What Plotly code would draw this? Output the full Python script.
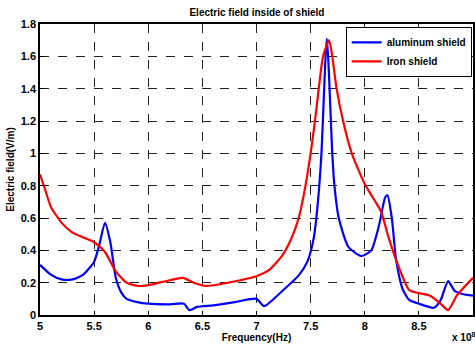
import plotly.graph_objects as go

freq_al = [5.0, 5.1, 5.2, 5.3, 5.4, 5.5, 5.55, 5.6, 5.65, 5.7, 5.75, 5.8, 5.9, 6.0, 6.2, 6.33,
           6.38, 6.45, 6.6, 6.8, 7.0, 7.07, 7.24, 7.39, 7.47, 7.53, 7.57, 7.6, 7.65, 7.7,
           7.72, 7.76, 7.85, 7.97, 8.06, 8.13, 8.19, 8.21, 8.25, 8.29, 8.35, 8.41, 8.5, 8.64,
           8.7, 8.77, 8.83, 8.9, 9.0]
e_al = [0.31, 0.25, 0.22, 0.22, 0.25, 0.33, 0.44, 0.57, 0.45, 0.23, 0.14, 0.10, 0.08, 0.07, 0.066, 0.07,
        0.03, 0.05, 0.06, 0.08, 0.10, 0.055, 0.15, 0.245, 0.33, 0.48, 0.72, 1.0, 1.71, 1.0,
        0.80, 0.60, 0.42, 0.365, 0.40, 0.55, 0.73, 0.74, 0.6, 0.34, 0.16, 0.093, 0.07, 0.045,
        0.09, 0.21, 0.15, 0.13, 0.12]

freq_fe = [5.0, 5.05, 5.1, 5.2, 5.3, 5.4, 5.5, 5.6, 5.7, 5.8, 5.9, 6.0, 6.1, 6.2, 6.32, 6.42,
           6.53, 6.7, 6.85, 7.0, 7.12, 7.24, 7.32, 7.39, 7.45, 7.5, 7.54, 7.575, 7.615, 7.67, 7.7,
           7.74, 7.8, 7.88, 8.0, 8.09, 8.15, 8.22, 8.29, 8.41, 8.5, 8.6, 8.7, 8.77, 8.85, 9.0]
e_fe = [0.87, 0.77, 0.67, 0.57, 0.51, 0.48, 0.45, 0.39, 0.27, 0.20, 0.18, 0.185, 0.20, 0.215, 0.23, 0.20,
        0.18, 0.195, 0.215, 0.24, 0.28, 0.37, 0.47, 0.60, 0.79, 1.0, 1.2, 1.4, 1.6, 1.70, 1.6,
        1.4, 1.2, 1.0, 0.81, 0.71, 0.64, 0.48, 0.34, 0.155, 0.135, 0.12, 0.07, 0.03, 0.12, 0.23]

x_ticks = [5, 5.5, 6, 6.5, 7, 7.5, 8, 8.5, 9]
x_ticktext = ["5", "5.5", "6", "6.5", "7", "7.5", "8", "8.5", "9"]
y_ticks = [0, 0.2, 0.4, 0.6, 0.8, 1, 1.2, 1.4, 1.6, 1.8]
y_ticktext = ["0", "0.2", "0.4", "0.6", "0.8", "1", "1.2", "1.4", "1.6", "1.8"]

font_family = "Liberation Sans, Arial, sans-serif"

fig = go.Figure()
fig.add_trace(go.Scatter(x=freq_al, y=e_al, mode="lines", name="aluminum shield",
                         line=dict(color="#0000ff", width=2.2, shape="spline", smoothing=0.6)))
fig.add_trace(go.Scatter(x=freq_fe, y=e_fe, mode="lines", name="Iron shield",
                         line=dict(color="#ff0000", width=2.2, shape="spline", smoothing=0.6)))

axis_common = dict(showline=True, linecolor="black", linewidth=1.5, mirror=True,
                   ticks="inside", ticklen=4, tickcolor="black",
                   showgrid=True, gridcolor="#222222", griddash="dash", gridwidth=1,
                   zeroline=False,
                   tickfont=dict(family=font_family, size=11, color="black", weight="bold"))

fig.update_layout(
    width=475, height=345,
    margin=dict(l=40, r=0, t=24, b=30),
    paper_bgcolor="white", plot_bgcolor="white",
    title=dict(text="Electric field inside of shield", x=0.541, xanchor="center",
               y=0.965, yanchor="middle",
               font=dict(family=font_family, size=10, color="black", weight="bold")),
    showlegend=True,
    legend=dict(x=0.997, xanchor="right", y=0.99, yanchor="top",
                bgcolor="white", bordercolor="black", borderwidth=1,
                font=dict(family=font_family, size=10, color="black", weight="bold"),
                tracegroupgap=0, itemwidth=30),
)
fig.update_xaxes(range=[5, 9], tickvals=x_ticks, ticktext=x_ticktext,
                 title=dict(text="Frequency(Hz)", standoff=2,
                            font=dict(family=font_family, size=10, color="black", weight="bold")),
                 **axis_common)
fig.update_yaxes(range=[0, 1.8], tickvals=y_ticks, ticktext=y_ticktext,
                 title=dict(text="Electric field(V/m)", standoff=4,
                            font=dict(family=font_family, size=10, color="black", weight="bold")),
                 **axis_common)
fig.add_annotation(text="x 10<sup>8</sup>", xref="paper", yref="paper", x=0.947, y=-0.075,
                   xanchor="left", yanchor="middle", showarrow=False,
                   font=dict(family=font_family, size=10, color="black", weight="bold"))

fig.write_html("out.html")
